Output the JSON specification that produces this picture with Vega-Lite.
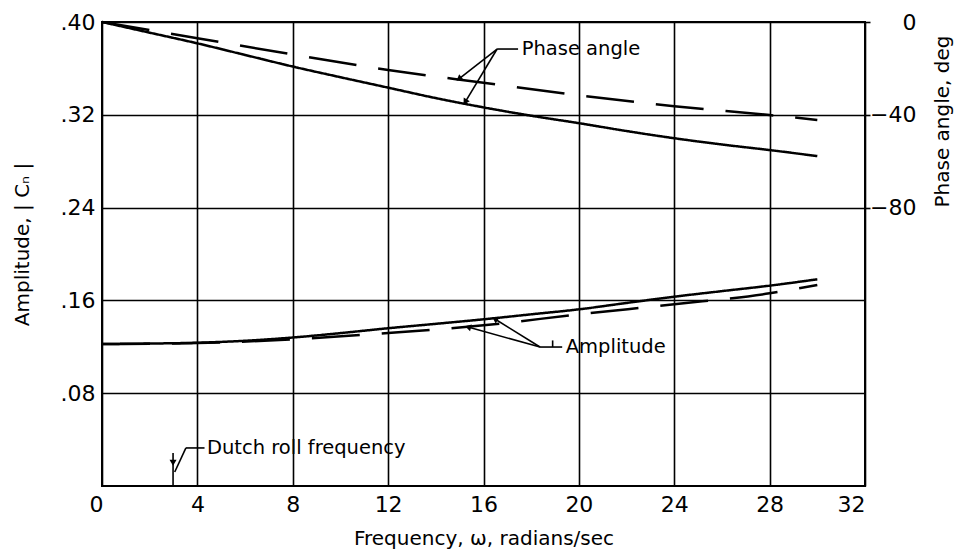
{
  "$schema": "https://vega.github.io/schema/vega-lite/v6.json",
  "width": 763,
  "height": 464,
  "autosize": "none",
  "padding": {"left": 102, "top": 22, "right": 92, "bottom": 73},
  "background": "white",
  "config": {
    "font": "DejaVu Sans",
    "view": {"stroke": "black", "strokeWidth": 2},
    "axis": {
      "domain": false,
      "labelColor": "black",
      "titleColor": "black",
      "labelFont": "DejaVu Sans",
      "titleFont": "DejaVu Sans",
      "titleFontWeight": "normal",
      "labelFontSize": 22,
      "titleFontSize": 20,
      "gridColor": "black",
      "gridOpacity": 1,
      "gridWidth": 1.6,
      "tickColor": "black"
    }
  },
  "datasets": {
    "curves": [
      {"w": 0, "value": 0.1224, "quantity": "Amplitude", "set": "A"},
      {"w": 2, "value": 0.1228, "quantity": "Amplitude", "set": "A"},
      {"w": 4, "value": 0.1235, "quantity": "Amplitude", "set": "A"},
      {"w": 6, "value": 0.1252, "quantity": "Amplitude", "set": "A"},
      {"w": 8, "value": 0.128, "quantity": "Amplitude", "set": "A"},
      {"w": 10, "value": 0.1318, "quantity": "Amplitude", "set": "A"},
      {"w": 12, "value": 0.136, "quantity": "Amplitude", "set": "A"},
      {"w": 14, "value": 0.1398, "quantity": "Amplitude", "set": "A"},
      {"w": 16, "value": 0.1437, "quantity": "Amplitude", "set": "A"},
      {"w": 18, "value": 0.148, "quantity": "Amplitude", "set": "A"},
      {"w": 20, "value": 0.1523, "quantity": "Amplitude", "set": "A"},
      {"w": 22, "value": 0.1578, "quantity": "Amplitude", "set": "A"},
      {"w": 24, "value": 0.1632, "quantity": "Amplitude", "set": "A"},
      {"w": 26, "value": 0.168, "quantity": "Amplitude", "set": "A"},
      {"w": 28, "value": 0.1727, "quantity": "Amplitude", "set": "A"},
      {"w": 30, "value": 0.1782, "quantity": "Amplitude", "set": "A"},
      {"w": 0, "value": 0.1224, "quantity": "Amplitude", "set": "B"},
      {"w": 4, "value": 0.1232, "quantity": "Amplitude", "set": "B"},
      {"w": 8, "value": 0.1265, "quantity": "Amplitude", "set": "B"},
      {"w": 12, "value": 0.1319, "quantity": "Amplitude", "set": "B"},
      {"w": 16, "value": 0.1385, "quantity": "Amplitude", "set": "B"},
      {"w": 20, "value": 0.148, "quantity": "Amplitude", "set": "B"},
      {"w": 24, "value": 0.1567, "quantity": "Amplitude", "set": "B"},
      {"w": 28, "value": 0.1661, "quantity": "Amplitude", "set": "B"},
      {"w": 30, "value": 0.1733, "quantity": "Amplitude", "set": "B"},
      {"w": 0, "value": 0, "quantity": "Phase angle", "set": "A"},
      {"w": 2, "value": -4.6, "quantity": "Phase angle", "set": "A"},
      {"w": 4, "value": -9.2, "quantity": "Phase angle", "set": "A"},
      {"w": 6, "value": -14.2, "quantity": "Phase angle", "set": "A"},
      {"w": 8, "value": -19.2, "quantity": "Phase angle", "set": "A"},
      {"w": 10, "value": -23.8, "quantity": "Phase angle", "set": "A"},
      {"w": 12, "value": -28.3, "quantity": "Phase angle", "set": "A"},
      {"w": 14, "value": -32.8, "quantity": "Phase angle", "set": "A"},
      {"w": 16, "value": -36.8, "quantity": "Phase angle", "set": "A"},
      {"w": 18, "value": -40.4, "quantity": "Phase angle", "set": "A"},
      {"w": 20, "value": -43.6, "quantity": "Phase angle", "set": "A"},
      {"w": 22, "value": -47, "quantity": "Phase angle", "set": "A"},
      {"w": 24, "value": -50.1, "quantity": "Phase angle", "set": "A"},
      {"w": 26, "value": -52.8, "quantity": "Phase angle", "set": "A"},
      {"w": 28, "value": -55.2, "quantity": "Phase angle", "set": "A"},
      {"w": 30, "value": -57.8, "quantity": "Phase angle", "set": "A"},
      {"w": 0, "value": 0, "quantity": "Phase angle", "set": "B"},
      {"w": 4, "value": -7, "quantity": "Phase angle", "set": "B"},
      {"w": 8, "value": -14, "quantity": "Phase angle", "set": "B"},
      {"w": 12, "value": -20.7, "quantity": "Phase angle", "set": "B"},
      {"w": 16, "value": -26.2, "quantity": "Phase angle", "set": "B"},
      {"w": 20, "value": -31.6, "quantity": "Phase angle", "set": "B"},
      {"w": 24, "value": -36.3, "quantity": "Phase angle", "set": "B"},
      {"w": 28, "value": -40.1, "quantity": "Phase angle", "set": "B"},
      {"w": 30, "value": -42.2, "quantity": "Phase angle", "set": "B"}
    ],
    "leaders": [
      {"w": 16.57, "value": 0.3767, "w2": 17.45, "value2": 0.3767},
      {"w": 16.57, "value": 0.3767, "w2": 14.97, "value2": 0.3509},
      {"w": 16.57, "value": 0.3767, "w2": 15.23, "value2": 0.331},
      {"w": 18.37, "value": 0.1198, "w2": 19.3, "value2": 0.1198},
      {"w": 18.37, "value": 0.1198, "w2": 16.48, "value2": 0.144},
      {"w": 18.37, "value": 0.1198, "w2": 15.35, "value2": 0.137},
      {"w": 18.9, "value": 0.1198, "w2": 18.9, "value2": 0.1255},
      {"w": 3.52, "value": 0.0328, "w2": 4.3, "value2": 0.0328},
      {"w": 3.52, "value": 0.0328, "w2": 3.05, "value2": 0.0121},
      {"w": 2.98, "value": 0.0284, "w2": 2.98, "value2": 0}
    ],
    "labels": [
      {"w": 17.6, "value": 0.3767, "text": "Phase angle"},
      {"w": 19.45, "value": 0.1198, "text": "Amplitude"},
      {"w": 4.4, "value": 0.0328, "text": "Dutch roll frequency"}
    ]
  },
  "encoding": {
    "x": {
      "field": "w",
      "type": "quantitative",
      "scale": {"domain": [0, 32], "nice": false, "zero": false},
      "axis": {
        "values": [0, 4, 8, 12, 16, 20, 24, 28, 32],
        "grid": true,
        "ticks": false,
        "labelPadding": 8,
        "labelOffset": {"condition": {"test": "datum.value === 0", "value": -13}, "value": 0},
        "title": "Frequency, ω, radians/sec",
        "titlePadding": 13
      }
    }
  },
  "layer": [
    {
      "layer": [
        {
          "data": {"name": "curves"},
          "transform": [{"filter": "datum.quantity === 'Amplitude'"}],
          "mark": {"type": "line", "color": "black", "strokeWidth": 2.5, "interpolate": "monotone"},
          "encoding": {
            "y": {
              "field": "value",
              "type": "quantitative",
              "scale": {"domain": [0, 0.4], "nice": false, "zero": false},
              "axis": {
                "values": [0.08, 0.16, 0.24, 0.32, 0.4],
                "labelExpr": "replace(format(datum.value, '.2f'), /^0/, '')",
                "grid": true,
                "ticks": false,
                "labelPadding": 7,
                "title": "Amplitude, | Cₙ |",
                "titleAngle": 270,
                "titleX": -80,
                "titleY": 222,
                "titleBaseline": "middle",
                "titleAlign": "center"
              }
            },
            "detail": {"field": "set"},
            "strokeDash": {
              "field": "set",
              "type": "nominal",
              "scale": {"domain": ["A", "B"], "range": [[1, 0], [48, 22]]},
              "legend": null
            }
          }
        },
        {
          "data": {"name": "leaders"},
          "mark": {"type": "rule", "color": "black", "strokeWidth": 1.6},
          "encoding": {
            "y": {"field": "value", "type": "quantitative"},
            "x2": {"field": "w2"},
            "y2": {"field": "value2"}
          }
        },
        {
          "data": {"name": "labels"},
          "mark": {"type": "text", "align": "left", "baseline": "middle", "fontSize": 19.5, "font": "DejaVu Sans", "color": "black"},
          "encoding": {
            "y": {"field": "value", "type": "quantitative"},
            "text": {"field": "text"}
          }
        },
        {
          "data": {"values": [{"w": 14.97, "value": 0.3509}]},
          "mark": {"type": "point", "shape": "triangle-up", "filled": true, "color": "black", "size": 50, "angle": 232, "opacity": 1},
          "encoding": {"y": {"field": "value", "type": "quantitative"}}
        },
        {
          "data": {"values": [{"w": 15.23, "value": 0.331}]},
          "mark": {"type": "point", "shape": "triangle-up", "filled": true, "color": "black", "size": 50, "angle": 211, "opacity": 1},
          "encoding": {"y": {"field": "value", "type": "quantitative"}}
        },
        {
          "data": {"values": [{"w": 16.48, "value": 0.144}]},
          "mark": {"type": "point", "shape": "triangle-up", "filled": true, "color": "black", "size": 50, "angle": 302, "opacity": 1},
          "encoding": {"y": {"field": "value", "type": "quantitative"}}
        },
        {
          "data": {"values": [{"w": 15.35, "value": 0.137}]},
          "mark": {"type": "point", "shape": "triangle-up", "filled": true, "color": "black", "size": 50, "angle": 285, "opacity": 1},
          "encoding": {"y": {"field": "value", "type": "quantitative"}}
        },
        {
          "data": {"values": [{"w": 2.98, "value": 0.02}]},
          "mark": {"type": "point", "shape": "triangle-down", "filled": true, "color": "black", "size": 50, "opacity": 1},
          "encoding": {"y": {"field": "value", "type": "quantitative"}}
        }
      ]
    },
    {
      "data": {"name": "curves"},
      "transform": [{"filter": "datum.quantity === 'Phase angle'"}],
      "mark": {"type": "line", "color": "black", "strokeWidth": 2.5, "interpolate": "monotone"},
      "encoding": {
        "y": {
          "field": "value",
          "type": "quantitative",
          "scale": {"domain": [-200, 0], "nice": false, "zero": false},
          "axis": {
            "orient": "right",
            "values": [0, -40, -80],
            "grid": false,
            "ticks": true,
            "tickSize": 5,
            "tickWidth": 1.6,
            "labelAlign": "right",
            "labelPadding": 46,
            "title": "Phase angle, deg",
            "titleAngle": 270,
            "titleX": 77,
            "titleY": 99,
            "titleBaseline": "middle",
            "titleAlign": "center"
          }
        },
        "detail": {"field": "set"},
        "strokeDash": {
          "field": "set",
          "type": "nominal",
          "scale": {"domain": ["A", "B"], "range": [[1, 0], [48, 22]]},
          "legend": null
        }
      }
    }
  ],
  "resolve": {"scale": {"y": "independent", "strokeDash": "shared"}, "axis": {"y": "independent"}}
}
